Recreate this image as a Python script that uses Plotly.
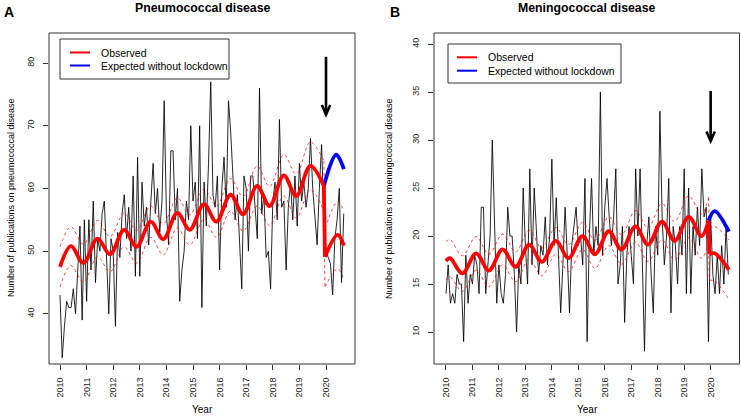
import plotly.graph_objects as go

# ---------------- DATA ----------------
years = list(range(2010, 2021))
year_labels = [str(y) for y in years]
n_months = 129  # Jan 2010 .. Sep 2020
month_x = [2010 + k / 12 for k in range(n_months)]

# Panel A: pneumococcal disease, monthly publications
a_obs = (
    [43, 33, 38, 42, 41, 41, 44, 40, 47, 54, 39, 55] +
    [42, 55, 47, 58, 45, 52, 50, 56, 58, 48, 40, 52] +
    [50, 38, 53, 49, 56, 59, 52, 57, 50, 62, 46, 65] +
    [46, 61, 54, 57, 51, 58, 64, 56, 60, 53, 58, 74] +
    [56, 51, 66, 66, 55, 60, 42, 47, 50, 58, 55, 70] +
    [58, 61, 52, 70, 41, 61, 54, 64, 77, 59, 57, 62] +
    [47, 60, 65, 57, 74, 69, 62, 55, 59, 52, 44, 62] +
    [60, 50, 62, 62, 57, 52, 76, 56, 59, 49, 50, 44] +
    [58, 61, 55, 71, 57, 58, 47, 57, 61, 55, 62, 54] +
    [64, 58, 61, 57, 60, 68, 60, 56, 51, 60, 67, 56] +
    [50, 49, 48, 43, 52, 55, 60, 45, 56]
)
# fitted curve (peaks / troughs), with confidence band
a_fit_x = [2010.0, 2010.41, 2010.88, 2011.41, 2011.88, 2012.41, 2012.88, 2013.41, 2013.88,
           2014.41, 2014.88, 2015.41, 2015.88, 2016.41, 2016.88, 2017.41, 2017.88,
           2018.41, 2018.88, 2019.41, 2019.92]
a_fit = [47.5, 50.8, 48.1, 52.0, 49.5, 53.4, 50.7, 54.7, 51.9, 56.1, 53.4, 57.5, 54.7,
         59.0, 55.9, 60.4, 57.2, 62.1, 58.8, 63.6, 60.4]
a_up = [50.7, 53.9, 51.1, 54.9, 52.3, 56.1, 53.3, 57.2, 54.4, 58.5, 55.8, 59.9, 57.2,
        61.6, 58.7, 63.6, 60.3, 65.4, 62.3, 67.4, 64.4]
a_lo = [44.3, 47.7, 45.1, 49.1, 46.7, 50.7, 48.1, 52.2, 49.4, 53.7, 51.0, 55.1, 52.2,
        56.4, 53.2, 57.2, 54.1, 58.8, 55.3, 59.8, 56.4]
a_post_x = [2019.96, 2020.44, 2020.67]
a_post = [49.1, 52.6, 50.9]
a_post_up = [53.6, 57.9, 56.4]
a_post_lo = [44.3, 47.2, 45.4]
a_exp_x = [2019.92, 2020.38, 2020.67]
a_exp = [60.4, 65.4, 63.1]
a_arrow = (2020.0, 81.0, 71.8)  # x, top, tip

# Panel B: meningococcal disease
b_obs = (
    [14, 17, 13, 14, 13, 16, 15, 15, 9, 18, 13, 16] +
    [15, 18, 17, 14, 23, 23, 14, 17, 20, 30, 20, 13] +
    [17, 14, 13, 16, 23, 20, 20, 16, 10, 17, 15, 25] +
    [19, 15, 27, 17, 25, 21, 16, 19, 18, 22, 17, 20] +
    [28, 19, 24, 18, 12, 17, 23, 18, 12, 19, 21, 23] +
    [19, 20, 17, 26, 9, 20, 26, 18, 21, 19, 35, 18] +
    [23, 26, 22, 19, 22, 27, 15, 17, 21, 11, 18, 21] +
    [18, 15, 27, 20, 27, 17, 8, 19, 22, 16, 12, 21] +
    [18, 33, 22, 17, 20, 26, 12, 21, 19, 15, 21, 18] +
    [27, 14, 25, 14, 21, 18, 23, 19, 27, 22, 23, 9] +
    [22, 16, 14, 18, 14, 19, 15, 21, 16]
)
b_fit_x = [2010.0, 2010.15, 2010.62, 2011.14, 2011.62, 2012.14, 2012.63, 2013.14, 2013.62,
           2014.15, 2014.63, 2015.16, 2015.63, 2016.15, 2016.63, 2017.16, 2017.63,
           2018.16, 2018.64, 2019.17, 2019.65, 2019.92]
b_fit = [17.4, 17.7, 16.1, 18.2, 16.4, 18.6, 16.8, 19.1, 17.3, 19.5, 17.7, 20.0, 18.1,
         20.5, 18.6, 21.0, 19.1, 21.5, 19.5, 22.0, 20.0, 21.6]
b_up = [19.4, 19.65, 17.95, 19.95, 18.1, 20.2, 18.35, 20.6, 18.75, 20.9, 19.1, 21.4, 19.55,
        22.0, 20.15, 22.65, 20.85, 23.4, 21.5, 24.2, 22.3, 24.0]
b_lo = [15.4, 15.75, 14.25, 16.45, 14.7, 17.0, 15.25, 17.6, 15.85, 18.1, 16.3, 18.6, 16.65,
        19.0, 17.05, 19.35, 17.35, 19.6, 17.5, 19.8, 17.7, 19.2]
b_post_x = [2019.95, 2020.15, 2020.69]
b_post = [18.1, 18.2, 16.5]
b_post_up = [20.9, 21.0, 19.6]
b_post_lo = [15.4, 15.3, 13.4]
b_exp_x = [2019.92, 2020.15, 2020.69]
b_exp = [21.6, 22.6, 20.45]
b_arrow = (2020.0, 35.1, 29.9)

# ---------------- LAYOUT HELPERS ----------------
W, H = 741, 416
def fx(x): return x / W
def fy(y): return 1 - y / H

FONT = "Arial, Liberation Sans, Helvetica, sans-serif"
RED = "#FF0000"
BLUE = "#0000FF"
CI = "rgba(255,0,0,0.75)"
FRAME = "#333333"

fig = go.Figure()

def line(x, y, xa, ya, color, width, shape="spline", dash=None):
    fig.add_trace(go.Scatter(
        x=x, y=y, xaxis=xa, yaxis=ya, mode="lines", showlegend=False, hoverinfo="skip",
        line=dict(color=color, width=width, shape=shape, dash=dash, smoothing=1.0)))

def panel(xa, ya, obs, fx_, fit, up, lo, px_, post, pup, plo, ex_, exp):
    line(month_x, obs, xa, ya, "black", 0.85, shape="linear")
    d = "3px,3px"
    line(fx_, up, xa, ya, CI, 1, dash=d)
    line(fx_, lo, xa, ya, CI, 1, dash=d)
    line([fx_[-1], px_[0]], [up[-1], pup[0]], xa, ya, CI, 1, shape="linear", dash=d)
    line([fx_[-1], px_[0]], [lo[-1], plo[0]], xa, ya, CI, 1, shape="linear", dash=d)
    line(px_, pup, xa, ya, CI, 1, dash=d)
    line(px_, plo, xa, ya, CI, 1, dash=d)
    line(ex_, exp, xa, ya, BLUE, 3.8)
    line(fx_, fit, xa, ya, RED, 3.8)
    line([fx_[-1], px_[0]], [fit[-1], post[0]], xa, ya, RED, 3.8, shape="linear")
    line(px_, post, xa, ya, RED, 3.8)

panel("x", "y", a_obs, a_fit_x, a_fit, a_up, a_lo, a_post_x, a_post, a_post_up, a_post_lo, a_exp_x, a_exp)
panel("x2", "y2", b_obs, b_fit_x, b_fit, b_up, b_lo, b_post_x, b_post, b_post_up, b_post_lo, b_exp_x, b_exp)

def xaxis(dom, rng, anchor):
    return dict(domain=dom, range=rng, tickvals=years, ticktext=year_labels, tickangle=-90,
                anchor=anchor, ticks="outside", ticklen=5, tickwidth=1, tickcolor=FRAME,
                showline=False, showgrid=False, zeroline=False, ticklabelstandoff=4,
                tickfont=dict(family=FONT, size=9, color="#222"))

def yaxis(dom, rng, ticks, anchor):
    return dict(domain=dom, range=rng, tickvals=ticks, tickangle=-90, anchor=anchor,
                ticks="outside", ticklen=5, tickwidth=1, tickcolor=FRAME,
                showline=False, showgrid=False, zeroline=False, ticklabelstandoff=5,
                tickfont=dict(family=FONT, size=9, color="#222"))

ydom = [fy(364), fy(33)]
fig.update_layout(
    width=W, height=H, margin=dict(l=0, r=0, t=0, b=0),
    paper_bgcolor="white", plot_bgcolor="white",
    xaxis=xaxis([fx(49), fx(355)], [2009.586, 2021.09], "y"),
    yaxis=yaxis(ydom, [32.0, 84.8], [40, 50, 60, 70, 80], "x"),
    xaxis2=xaxis([fx(434), fx(739.5)], [2009.547, 2021.09], "y2"),
    yaxis2=yaxis(ydom, [6.67, 41.15], [10, 15, 20, 25, 30, 35, 40], "x2"),
)

ann = []
shapes = []
def text(x, y, s, size, xanchor="center", yanchor="middle", angle=0, bold=False):
    ann.append(dict(x=fx(x), y=fy(y), xref="paper", yref="paper", text=(f"<b>{s}</b>" if bold else s),
                    showarrow=False, xanchor=xanchor, yanchor=yanchor, textangle=angle,
                    font=dict(family=FONT, size=size, color="black")))

# plot frames
for xr, yr in (("x", "y"), ("x2", "y2")):
    shapes.append(dict(type="rect", xref=f"{xr} domain", yref=f"{yr} domain", x0=0, x1=1, y0=0, y1=1,
                       line=dict(color=FRAME, width=1), layer="above"))

# titles & panel letters
text(202, 8, "Pneumococcal disease", 12.3, bold=True)
text(587, 8, "Meningococcal disease", 12.3, bold=True)
text(9, 12, "A", 14, bold=True)
text(395, 12, "B", 14, bold=True)
# axis titles
text(202, 409, "Year", 10)
text(587, 409, "Year", 10)
text(11, 198, "Number of publications on pneumococcal disease", 9, angle=-90)
text(389, 198, "Number of publications on meningococcal disease", 9, angle=-90)

# legends
def legend(x0, y0, x1, y1, lx0, lx1, tx, yo, yb):
    shapes.append(dict(type="rect", xref="paper", yref="paper", x0=fx(x0), x1=fx(x1), y0=fy(y1), y1=fy(y0),
                       line=dict(color=FRAME, width=1), fillcolor="white"))
    shapes.append(dict(type="line", xref="paper", yref="paper", x0=fx(lx0), x1=fx(lx1), y0=fy(yo), y1=fy(yo),
                       line=dict(color=RED, width=2)))
    shapes.append(dict(type="line", xref="paper", yref="paper", x0=fx(lx0), x1=fx(lx1), y0=fy(yb), y1=fy(yb),
                       line=dict(color=BLUE, width=2)))
    text(tx, yo, "Observed", 10.5, xanchor="left")
    text(tx, yb, "Expected without lockdown", 10.5, xanchor="left")

legend(60, 39, 229, 79, 70, 90, 99, 52.5, 65.5)
legend(448, 44, 621, 83, 457, 477, 486, 57.3, 70.7)

# arrows (open V head like R's arrows())
def arrow(xr, yr, a, px_per_x, px_per_y):
    x, top, tip = a
    hw = 4.2 / px_per_x
    hl = 9.5 / px_per_y
    shapes.append(dict(type="line", xref=xr, yref=yr, x0=x, x1=x, y0=top, y1=tip,
                       line=dict(color="black", width=2.6)))
    shapes.append(dict(type="path", xref=xr, yref=yr,
                       path=f"M {x-hw},{tip+hl} L {x},{tip} L {x+hw},{tip+hl}",
                       line=dict(color="black", width=2.6)))

arrow("x", "y", a_arrow, 26.6, 6.275)
arrow("x2", "y2", b_arrow, 26.5, 9.6)

fig.update_layout(annotations=ann, shapes=shapes)
fig.write_html("out.html", config={"displayModeBar": False},
               post_script="document.body.style.margin='0px';document.body.style.padding='0px';")
